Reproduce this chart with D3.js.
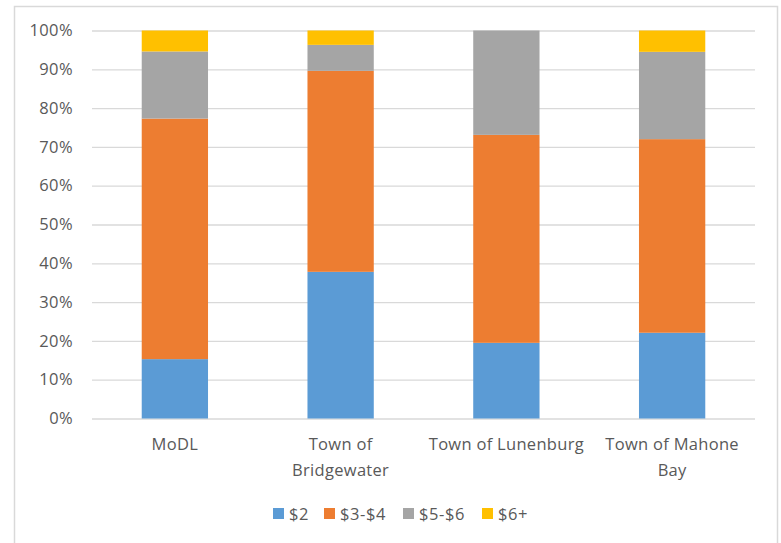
<!DOCTYPE html>
<html>
<head>
<meta charset="utf-8">
<script src="https://cdn.jsdelivr.net/npm/d3@7"></script>
<style>
  html, body { margin: 0; padding: 0; background: #fff; }
  svg { display: block; }
  text { font-family: "Open Sans", "Liberation Sans", sans-serif; fill: #595959; }
</style>
</head>
<body>
<svg id="chart" width="781" height="543"></svg>
<script>
// Municipalities (x categories); "\n" marks a line break in the axis label
const categories = ["MoDL", "Town of\nBridgewater", "Town of Lunenburg", "Town of Mahone\nBay"];
// Fare groups, stacked bottom to top
const seriesNames = ["$2", "$3-$4", "$5-$6", "$6+"];
const seriesColors = ["#5B9BD5", "#ED7D31", "#A5A5A5", "#FFC000"];
// Share of respondents (%) for each fare group, per municipality
const share2   = [15.3, 37.8, 19.5, 22.1];
const share3to4 = [62.0, 51.8, 53.6, 49.9];
const share5to6 = [17.3, 6.7, 26.9, 22.5];
const share6up = [5.4, 3.7, 0.0, 5.5];
// Value axis ticks
const yTicks = [0, 10, 20, 30, 40, 50, 60, 70, 80, 90, 100];

const FONT = 16.5;
const svg = d3.select("#chart");

// Chart-area frame (open at the bottom edge of the window)
svg.append("path")
  .attr("d", "M14.5,543 V6.5 H777.5 V543")
  .attr("fill", "none")
  .attr("stroke", "#d9d9d9")
  .attr("stroke-width", 1.5);

const plot = { left: 92, right: 755, top: 30.5, bottom: 418.5 };

const x = d3.scaleBand()
  .domain(categories)
  .range([plot.left, plot.right])
  .paddingInner(0.6)
  .paddingOuter(0.3);

const y = d3.scaleLinear()
  .domain([0, 100])
  .range([plot.bottom, plot.top]);

// Gridlines + tick labels
const yAxis = d3.axisLeft(y)
  .tickValues(yTicks)
  .tickSize(-(plot.right - plot.left))
  .tickPadding(19)
  .tickFormat(d => d + "%");

const gy = svg.append("g")
  .attr("transform", `translate(${plot.left},0)`)
  .call(yAxis);
gy.select(".domain").remove();
gy.selectAll(".tick line").attr("stroke", "#d9d9d9").attr("stroke-width", 1.3);
gy.selectAll(".tick text")
  .attr("font-size", FONT)
  .attr("letter-spacing", 0.4)
  .attr("fill", "#595959")
  .style("font-family", "'Open Sans', 'Liberation Sans', sans-serif");

// Stacked data
const rows = categories.map((c, i) => ({
  cat: c,
  "$2": share2[i],
  "$3-$4": share3to4[i],
  "$5-$6": share5to6[i],
  "$6+": share6up[i]
}));
const stacked = d3.stack().keys(seriesNames)(rows);

svg.append("g")
  .selectAll("g")
  .data(stacked)
  .join("g")
  .attr("fill", (d, i) => seriesColors[i])
  .selectAll("rect")
  .data(d => d)
  .join("rect")
  .attr("x", d => x(d.data.cat))
  .attr("width", x.bandwidth())
  .attr("y", d => y(d[1]))
  .attr("height", d => Math.max(0, y(d[0]) - y(d[1])));

// Category labels (manually wrapped)
const gx = svg.append("g");
categories.forEach(c => {
  const lines = c.split("\n");
  const t = gx.append("text")
    .attr("x", x(c) + x.bandwidth() / 2)
    .attr("y", 450)
    .attr("text-anchor", "middle")
    .attr("font-size", FONT)
    .attr("letter-spacing", 0.3);
  lines.forEach((ln, j) => {
    t.append("tspan")
      .attr("x", x(c) + x.bandwidth() / 2)
      .attr("dy", j === 0 ? 0 : 26)
      .text(ln);
  });
});

// Legend
const legendX = [273, 324, 403, 482];
const legend = svg.append("g");
seriesNames.forEach((s, i) => {
  legend.append("rect")
    .attr("x", legendX[i])
    .attr("y", 508)
    .attr("width", 11)
    .attr("height", 11)
    .attr("fill", seriesColors[i]);
  legend.append("text")
    .attr("x", legendX[i] + 16)
    .attr("y", 520)
    .attr("font-size", FONT)
    .attr("letter-spacing", 0.6)
    .text(s);
});
</script>
</body>
</html>
